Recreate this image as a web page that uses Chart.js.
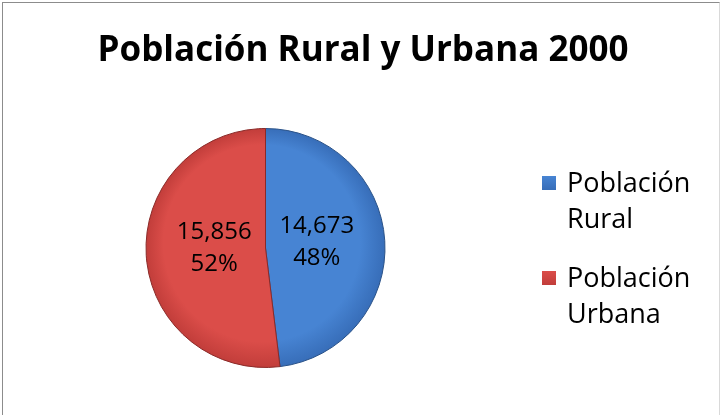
<!DOCTYPE html>
<html lang="es">
<head>
<meta charset="utf-8">
<title>Población Rural y Urbana 2000</title>
<script src="https://cdn.jsdelivr.net/npm/chart.js@4.4.1/dist/chart.umd.min.js"></script>
<style>
  html, body { margin: 0; padding: 0; background: #fff; }
  body { width: 721px; height: 415px; position: relative; overflow: hidden; font-family: 'Open Sans', Lato, sans-serif; }
  #frame {
    position: absolute; left: 2px; top: 2px; width: 716px; height: 420px;
    border-left: 1px solid #8c8c8c; border-top: 1px solid #8c8c8c; border-right: 1px solid #d9d9d9;
    pointer-events: none;
  }
  #chart { position: absolute; left: 0; top: 0; }
  #title {
    position: absolute; left: 4px; width: 718px; top: 28px;
    text-align: center; font-weight: 700; font-size: 35px; line-height: 40px; color: #000;
  }
  #legend { position: absolute; left: 542px; top: 164px; width: 175px; }
  .item { display: flex; align-items: flex-start; margin-bottom: 23px; }
  .swatch { width: 14px; height: 14px; margin-top: 12px; margin-right: 11px; flex: none; }
  .text { font-size: 27px; line-height: 36px; width: 140px; color: #000; }
</style>
</head>
<body>
<canvas id="chart" width="721" height="415"></canvas>
<div id="title"></div>
<div id="legend"></div>
<div id="frame"></div>
<script>
'use strict';

/* ─── Data ─── */
const chartTitle = 'Población Rural y Urbana 2000';
const categories = ['Población Rural', 'Población Urbana'];
const population = [14673, 15856];

/* ─── Colours (inner / outer of each slice) ─── */
const innerColors = ['#4784d3', '#db4d49'];
const outerColors = ['#376db8', '#c13d3a'];
const edgeColors  = ['#2a5288', '#8a2a28'];

function sliceFill(ctx) {
  const chart = ctx.chart;
  const area = chart.chartArea;
  if (!area) return innerColors[ctx.dataIndex];
  const cx = (area.left + area.right) / 2;
  const cy = (area.top + area.bottom) / 2;
  const r  = Math.min(area.width, area.height) / 2;
  const g = chart.ctx.createRadialGradient(cx - r * 0.15, cy - r * 0.2, r * 0.1, cx, cy, r);
  g.addColorStop(0, innerColors[ctx.dataIndex]);
  g.addColorStop(0.8, innerColors[ctx.dataIndex]);
  g.addColorStop(1, outerColors[ctx.dataIndex]);
  return g;
}

/* ─── Value + percent labels on slices ─── */
const sliceLabels = {
  id: 'sliceLabels',
  afterDatasetsDraw(chart) {
    const ctx = chart.ctx;
    const meta = chart.getDatasetMeta(0);
    const total = population.reduce((a, b) => a + b, 0);
    ctx.save();
    ctx.font = '24px "Open Sans", Lato, sans-serif';
    ctx.fillStyle = '#000';
    ctx.textAlign = 'center';
    ctx.textBaseline = 'middle';
    meta.data.forEach((arc, i) => {
      const p = arc.getProps(['x', 'y', 'startAngle', 'endAngle', 'outerRadius'], true);
      const mid = (p.startAngle + p.endAngle) / 2;
      const d = p.outerRadius * 0.43;
      const x = p.x + Math.cos(mid) * d;
      const y = p.y + Math.sin(mid) * d - 3;
      const pct = Math.round(population[i] / total * 100) + '%';
      ctx.fillText(population[i].toLocaleString('en-US'), x, y - 16);
      ctx.fillText(pct, x, y + 16);
    });
    ctx.restore();
  }
};

document.getElementById('title').textContent = chartTitle;

const legendEl = document.getElementById('legend');
categories.forEach((name, i) => {
  const item = document.createElement('div');
  item.className = 'item';
  const sw = document.createElement('span');
  sw.className = 'swatch';
  sw.style.background = `linear-gradient(${innerColors[i]}, ${outerColors[i]})`;
  const tx = document.createElement('span');
  tx.className = 'text';
  tx.textContent = name;
  item.append(sw, tx);
  legendEl.appendChild(item);
});

new Chart(document.getElementById('chart'), {
  type: 'pie',
  data: {
    labels: categories,
    datasets: [{
      data: population,
      backgroundColor: sliceFill,
      borderColor: edgeColors,
      borderWidth: 1
    }]
  },
  options: {
    responsive: false,
    animation: false,
    layout: { padding: { left: 145, right: 335, top: 128, bottom: 47 } },
    plugins: {
      legend: { display: false },
      tooltip: { enabled: false }
    }
  },
  plugins: [sliceLabels]
});
</script>
</body>
</html>
